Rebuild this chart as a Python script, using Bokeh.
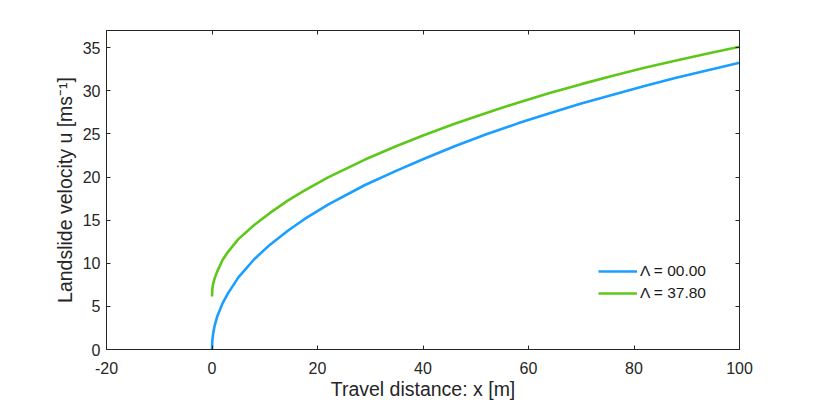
from bokeh.plotting import figure
from bokeh.models import (Range1d, LinearAxis, FixedTicker, Legend, LegendItem)
from bokeh.embed import file_html
from bokeh.resources import INLINE

# Travel distance x [m]
travel_x = [0, 0.05, 0.1, 0.25, 0.5, 1, 2, 3, 5, 8, 11, 14.5, 17.5, 22, 29,
            35, 40, 46, 52, 58, 64, 70, 76, 82, 88, 94, 100]
# Landslide velocity u [m/s], Lambda = 00.00
vel_lambda_0 = [0, 0.89, 1.25, 1.97, 2.76, 3.85, 5.35, 6.48, 8.37, 10.47,
                12.16, 13.83, 15.11, 16.81, 19.08, 20.75, 22.07, 23.57, 24.96,
                26.23, 27.41, 28.52, 29.56, 30.56, 31.51, 32.4, 33.26]
# Landslide velocity u [m/s], Lambda = 37.80
vel_lambda_378 = [6.15, 6.9, 7.18, 7.69, 8.25, 9.06, 10.38, 11.3, 12.8,
                  14.43, 15.84, 17.32, 18.44, 19.96, 22.03, 23.61, 24.82,
                  26.18, 27.44, 28.63, 29.74, 30.78, 31.76, 32.67, 33.53,
                  34.34, 35.11]

series_labels = ["\u039b = 00.00", "\u039b = 37.80"]
x_ticks = [-20, 0, 20, 40, 60, 80, 100]
x_tick_labels = ["-20", "0", "20", "40", "60", "80", "100"]
y_ticks = [0, 5, 10, 15, 20, 25, 30, 35]
y_tick_labels = ["0", "5", "10", "15", "20", "25", "30", "35"]

FONT = "Liberation Sans"
AX = "#262626"

p = figure(width=812, height=403, output_backend="svg", toolbar_location=None,
           x_range=Range1d(-20, 100), y_range=Range1d(0, 37),
           min_border_left=106, min_border_right=73, min_border_top=30,
           min_border_bottom=54, x_axis_location=None, y_axis_location=None)
p.grid.visible = False
p.outline_line_color = AX
p.outline_line_width = 1
p.background_fill_color = "white"
p.border_fill_color = "white"

def style_axis(ax, ticks, labels):
    ax.ticker = FixedTicker(ticks=ticks)
    ax.axis_line_color = AX
    ax.axis_line_width = 1
    ax.major_tick_line_color = AX
    ax.major_tick_in = 4
    ax.major_tick_out = 0
    ax.minor_tick_line_color = None
    ax.major_label_text_font = FONT
    ax.axis_label_text_font = FONT
    ax.axis_label_text_font_style = "normal"
    ax.axis_label_text_color = AX
    ax.axis_label_text_font_size = "19.5px"
    if labels is None:
        ax.major_label_text_font_size = "0px"
        ax.major_label_text_color = None
        ax.major_label_standoff = 0
    else:
        ax.major_label_overrides = dict(zip(ticks, labels))
        ax.major_label_text_color = AX
        ax.major_label_text_font_size = "16px"

xb = LinearAxis(axis_label="Travel distance: x [m]")
style_axis(xb, x_ticks, x_tick_labels)
xb.major_label_standoff = 12
xb.axis_label_standoff = 1
p.add_layout(xb, "below")

yl = LinearAxis(axis_label="Landslide velocity u [ms\u207b\u00b9]")
style_axis(yl, y_ticks, y_tick_labels)
yl.major_label_standoff = 6
yl.axis_label_standoff = 4
p.add_layout(yl, "left")

xt = LinearAxis()
style_axis(xt, x_ticks, None)
p.add_layout(xt, "above")

yr = LinearAxis()
style_axis(yr, y_ticks, None)
p.add_layout(yr, "right")

r0 = p.line(travel_x, vel_lambda_0, line_color="#1a9eff", line_width=2.6)
r1 = p.line(travel_x, vel_lambda_378, line_color="#5ec81a", line_width=2.6)

legend = Legend(items=[LegendItem(label=series_labels[0], renderers=[r0]),
                       LegendItem(label=series_labels[1], renderers=[r1])],
                location=(492, 46), padding=0, margin=0, spacing=2,
                glyph_width=39, glyph_height=20, label_height=20,
                label_standoff=3, border_line_alpha=0,
                background_fill_alpha=0,
                label_text_font=FONT, label_text_font_size="15.5px",
                label_text_color="#1a1a1a")
p.add_layout(legend)

open("out.html", "w").write(file_html(p, INLINE))
